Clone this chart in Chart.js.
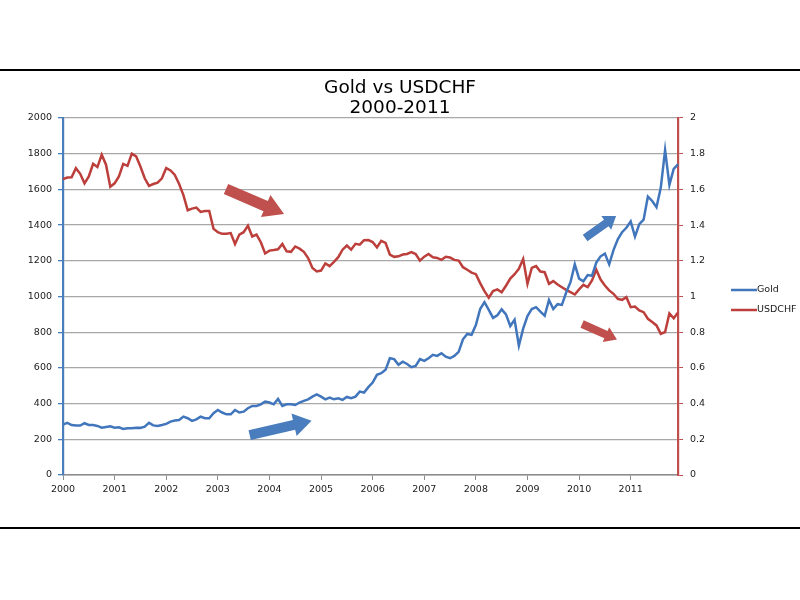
<!DOCTYPE html>
<html>
<head>
<meta charset="utf-8">
<script src="https://cdn.jsdelivr.net/npm/chart.js@4/dist/chart.umd.min.js"></script>
<style>
  html, body { margin: 0; padding: 0; background: #fff; }
  #chart { display: block; }
</style>
</head>
<body>
<canvas id="chart" width="800" height="600"></canvas>
<script>
// values, one row per year (Jan..Dec)
var years = ['2000', '2001', '2002', '2003', '2004', '2005', '2006', '2007', '2008', '2009', '2010', '2011'];
var seriesNames = ['Gold', 'USDCHF'];

var gold = [
    282, 292, 280, 277, 277, 290, 280, 280, 275, 265, 269, 273,
    265, 267, 258, 262, 262, 265, 264, 271, 292, 278, 275, 280,
    286, 299, 305, 308, 327, 318, 303, 312, 327, 318, 318, 346,
    364, 350, 340, 340, 364, 350, 355, 374, 387, 387, 396, 411,
    406, 396, 426, 387, 396, 396, 392, 406, 415, 424, 439, 452,
    439, 424, 434, 424, 430, 421, 437, 430, 439, 467, 462, 492,
    518, 561, 570, 589, 654, 649, 617, 635, 622, 604, 611, 649,
    639, 654, 673, 667, 682, 663, 654, 667, 690, 760, 790, 785,
    840, 930, 968, 925, 880, 895, 928, 900, 835, 870, 725, 820,
    890, 930, 940, 915, 892, 980, 930, 957, 953, 1022, 1080, 1180,
    1100, 1085, 1120, 1116, 1190, 1225, 1240, 1180, 1260, 1320, 1360, 1385,
    1420, 1335, 1405, 1430, 1560, 1535, 1500, 1610, 1820, 1625, 1715, 1740
];

var usdchf = [
    1.657, 1.666, 1.668, 1.719, 1.687, 1.634, 1.672, 1.743, 1.725, 1.794, 1.738, 1.615,
    1.634, 1.672, 1.743, 1.732, 1.800, 1.785, 1.728, 1.662, 1.619, 1.630, 1.638, 1.662,
    1.719, 1.706, 1.681, 1.630, 1.568, 1.483, 1.492, 1.498, 1.474, 1.479, 1.479, 1.379,
    1.360, 1.351, 1.351, 1.355, 1.294, 1.347, 1.360, 1.396, 1.336, 1.347, 1.304, 1.241,
    1.257, 1.260, 1.264, 1.294, 1.253, 1.250, 1.280, 1.268, 1.250, 1.215, 1.160, 1.140,
    1.145, 1.185, 1.170, 1.194, 1.220, 1.262, 1.285, 1.262, 1.295, 1.290, 1.315, 1.316,
    1.305, 1.275, 1.312, 1.300, 1.235, 1.222, 1.225, 1.235, 1.238, 1.248, 1.238, 1.201,
    1.223, 1.238, 1.220, 1.216, 1.205, 1.222, 1.218, 1.205, 1.201, 1.164, 1.150, 1.134,
    1.125, 1.075, 1.030, 0.993, 1.030, 1.040, 1.024, 1.060, 1.100, 1.125, 1.155, 1.210,
    1.071, 1.160, 1.170, 1.140, 1.136, 1.071, 1.086, 1.067, 1.052, 1.037, 1.024, 1.011,
    1.040, 1.065, 1.052, 1.090, 1.150, 1.095, 1.061, 1.034, 1.015, 0.987, 0.981, 0.996,
    0.940, 0.944, 0.922, 0.912, 0.875, 0.857, 0.838, 0.791, 0.801, 0.905, 0.878, 0.910
];

var goldTicks = { min: 0, max: 2000, step: 200 };
var chfTicks = { min: 0, max: 2, step: 0.2 };

// monthly categories, e.g. "2000-01"
var months = [];
years.forEach(function(y) {
    for (var m = 1; m <= 12; m++) months.push(y + '-' + (m < 10 ? '0' + m : m));
});

var BLUE = '#4176bc';
var RED = '#bc3f3c';
var FONT = 'DejaVu Sans';

// annotation arrows, placed in (month index, gold value) space
var arrows = [
    { from: [37.9, 1602], to: [51.4, 1462], color: '#c0504d', shaft: 11, head: 24, headLen: 20 },
    { from: [43.4, 224], to: [57.8, 304], color: '#4a7dbd', shaft: 10, head: 23, headLen: 18 },
    { from: [121.4, 1328], to: [128.6, 1451], color: '#4a7dbd', shaft: 8, head: 17, headLen: 12 },
    { from: [120.7, 846], to: [128.8, 759], color: '#c0504d', shaft: 8, head: 16, headLen: 12 }
];

function drawArrow(ctx, x0, y0, x1, y1, a) {
    var dx = x1 - x0, dy = y1 - y0;
    var len = Math.sqrt(dx * dx + dy * dy);
    var ux = dx / len, uy = dy / len;
    var nx = -uy, ny = ux;
    var bx = x1 - ux * a.headLen, by = y1 - uy * a.headLen;
    var w = a.shaft / 2, h = a.head / 2;
    ctx.beginPath();
    ctx.moveTo(x0 + nx * w, y0 + ny * w);
    ctx.lineTo(bx + nx * w, by + ny * w);
    ctx.lineTo(bx + nx * h, by + ny * h);
    ctx.lineTo(x1, y1);
    ctx.lineTo(bx - nx * h, by - ny * h);
    ctx.lineTo(bx - nx * w, by - ny * w);
    ctx.lineTo(x0 - nx * w, y0 - ny * w);
    ctx.closePath();
    ctx.fillStyle = a.color;
    ctx.fill();
}

var decor = {
    id: 'decor',
    beforeDraw: function(chart) {
        var ctx = chart.ctx;
        ctx.save();
        ctx.fillStyle = '#fff';
        ctx.fillRect(0, 0, chart.width, chart.height);
        ctx.fillStyle = '#000';
        ctx.fillRect(0, 69, chart.width, 2);
        ctx.fillRect(0, 527, chart.width, 2);
        ctx.restore();
    },
    afterDraw: function(chart) {
        var ctx = chart.ctx;
        var sx = chart.scales.x, sy = chart.scales.y;
        ctx.save();
        arrows.forEach(function(a) {
            drawArrow(ctx,
                sx.getPixelForValue(a.from[0]), sy.getPixelForValue(a.from[1]),
                sx.getPixelForValue(a.to[0]), sy.getPixelForValue(a.to[1]), a);
        });
        // legend
        ctx.font = '9.5px "' + FONT + '"';
        ctx.textBaseline = 'middle';
        ctx.textAlign = 'left';
        chart.data.datasets.forEach(function(ds, i) {
            var y = 290 + i * 20;
            ctx.strokeStyle = ds.borderColor;
            ctx.lineWidth = 2.5;
            ctx.beginPath();
            ctx.moveTo(731, y);
            ctx.lineTo(757, y);
            ctx.stroke();
            ctx.fillStyle = '#1a1a1a';
            ctx.fillText(ds.label, 757, y);
        });
        ctx.restore();
    }
};

new Chart(document.getElementById('chart'), {
    type: 'line',
    data: {
        labels: months,
        datasets: [{
            label: seriesNames[0],
            data: gold,
            yAxisID: 'y',
            borderColor: BLUE,
            borderWidth: 2.5,
            pointRadius: 0,
            tension: 0,
            fill: false
        }, {
            label: seriesNames[1],
            data: usdchf,
            yAxisID: 'y1',
            borderColor: RED,
            borderWidth: 2.5,
            pointRadius: 0,
            tension: 0,
            fill: false
        }]
    },
    options: {
        responsive: false,
        animation: false,
        layout: { padding: { top: 72, left: 0, right: 0, bottom: 0 } },
        plugins: {
            legend: { display: false },
            tooltip: { enabled: false },
            title: {
                display: true,
                text: ['Gold vs USDCHF', '2000-2011'],
                color: '#000',
                font: { family: FONT, size: 18.5, weight: 'normal', lineHeight: 1.08 },
                padding: { top: 6, bottom: 0 }
            }
        },
        scales: {
            x: {
                type: 'category',
                offset: false,
                grid: { display: true, drawOnChartArea: false, drawTicks: true, tickLength: 5, tickColor: '#8c8c8c' },
                border: { display: true, color: '#8c8c8c', width: 1.5 },
                ticks: {
                    autoSkip: false,
                    maxRotation: 0,
                    padding: 4,
                    color: '#1a1a1a',
                    font: { family: FONT, size: 9.5 },
                    callback: function(v, i) {
                        var m = months[i];
                        return m && m.slice(5) === '01' ? m.slice(0, 4) : null;
                    }
                },
                afterFit: function(s) { s.height = 125; }
            },
            y: {
                position: 'left',
                min: goldTicks.min,
                max: goldTicks.max,
                ticks: {
                    stepSize: goldTicks.step,
                    padding: 6,
                    color: '#1a1a1a',
                    font: { family: FONT, size: 9.5 },
                    callback: function(v) { return String(Math.round(v)); }
                },
                grid: { color: '#a8a8a8', lineWidth: 1.3, drawTicks: true, tickLength: 5, tickColor: '#4a7ebb' },
                border: { display: true, color: '#4a7ebb', width: 2.2 },
                afterFit: function(s) { s.width = 63; }
            },
            y1: {
                position: 'right',
                min: chfTicks.min,
                max: chfTicks.max,
                ticks: {
                    stepSize: chfTicks.step,
                    padding: 7,
                    color: '#1a1a1a',
                    font: { family: FONT, size: 9.5 },
                    callback: function(v) { return String(Math.round(v * 10) / 10); }
                },
                grid: { drawOnChartArea: false, drawTicks: true, tickLength: 5, tickColor: '#c0504d' },
                border: { display: true, color: '#c0504d', width: 2.2 },
                afterFit: function(s) { s.width = 122; }
            }
        }
    },
    plugins: [decor]
});
</script>
</body>
</html>
